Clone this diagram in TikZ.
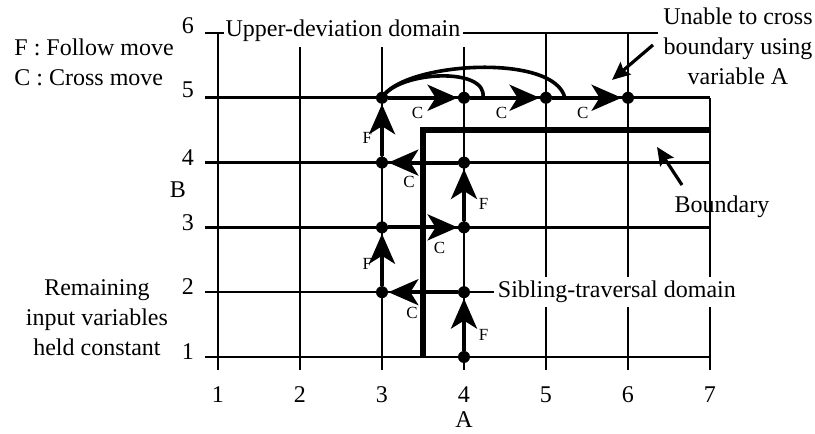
\documentclass[tikz,border=0pt]{standalone}
\usepackage{fontspec}
\setmainfont{Liberation Serif}
\usetikzlibrary{arrows.meta, positioning}
\tikzset{
  gridline/.style = {line width=1.3pt},
  bound/.style    = {line width=2.8pt, line join=miter},
  dot/.style      = {circle, fill=black, inner sep=0pt, minimum size=6pt},
  move/.style     = {line width=2pt, -{Stealth[length=15pt,width=13pt,inset=4pt]}},
  arcline/.style  = {line width=1.8pt},
  tag/.style      = {font=\fontsize{8.5}{9}\selectfont, inner sep=1pt},
  lbl/.style      = {font=\fontsize{12}{15}\selectfont, inner sep=1pt},
  callout/.style  = {line width=1.6pt, -{Stealth[length=9pt,width=8pt,inset=1.5pt]}},
}

\begin{document}
\begin{tikzpicture}[x=41pt, y=32.4pt]
  \useasboundingbox (-1.6585,-0.188) rectangle (8.2805,6.509);

  % ── Grid (rows B = 1..6, columns A = 1..7) ──────────────────────
  \draw[gridline] (0.84,1) -- (7,1);
  \draw[gridline] (0.84,2) -- (4.36,2);
  \draw[gridline] (0.84,3) -- (7,3);
  \draw[gridline] (0.84,4) -- (7,4);
  \draw[gridline] (0.84,5) -- (7,5);
  \draw[gridline] (0.84,6) -- (1.07,6);
  \draw[gridline] (3.99,6) -- (6.37,6);
  \draw[gridline] (1,0.8) -- (1,6);
  \draw[gridline] (2,0.8) -- (2,5.78);
  \draw[gridline] (3,0.8) -- (3,5.78);
  \draw[gridline] (4,0.8) -- (4,5.78);
  \draw[gridline] (5,0.8) -- (5,6);
  \draw[gridline] (6,0.8) -- (6,6);
  \draw[gridline] (7,0.8) -- (7,5);

  % ── Boundary ────────────────────────────────────────────────────
  \draw[bound] (3.5,1) -- (3.5,4.5) -- (7,4.5);

  % ── Axis labels ─────────────────────────────────────────────────
  \node[lbl] (yt1) at (0.634,1.08) {1};
  \node[lbl] (yt2) at (0.634,2.08) {2};
  \node[lbl] (yt3) at (0.634,3.08) {3};
  \node[lbl] (yt4) at (0.634,4.08) {4};
  \node[lbl] (yt5) at (0.634,5.12) {5};
  \node[lbl] (yt6) at (0.634,6.12) {6};
  \node[lbl] (blabel) at (0.512,3.577) {B};

  \node[lbl] (xt1) at (1,0.414) {1};
  \node[lbl] (xt2) at (2,0.414) {2};
  \node[lbl] (xt3) at (3,0.414) {3};
  \node[lbl] (xt4) at (4,0.414) {4};
  \node[lbl] (xt5) at (5,0.414) {5};
  \node[lbl] (xt6) at (6,0.414) {6};
  \node[lbl] (xt7) at (7,0.414) {7};
  \node[lbl, below=2pt of xt4] (alabel) {A};

  % ── Domain labels and notes ─────────────────────────────────────
  \node[lbl] (upper) at (2.524,6.04) {Upper-deviation domain};
  \node[lbl, fill=white, inner sep=2pt, anchor=west] (sibling) at (4.36,2)
    {Sibling-traversal domain};
  \node[lbl, align=left, anchor=west] (legend) at (-1.512,5.552)
    {F : Follow move\\C : Cross move};
  \node[lbl, align=center] (remain) at (-0.476,1.60)
    {Remaining\\input variables\\held constant};
  \node[lbl, align=center] (unable) at (7.341,5.79)
    {Unable to cross\\boundary using\\variable A};
  \node[lbl] (boundary) at (7.146,3.315) {Boundary};

  \coordinate (unabletail) at (6.305,5.815);
  \coordinate (unabletip)  at (5.805,5.275);
  \coordinate (boundtail)  at (6.659,3.654);
  \coordinate (boundtip)   at (6.354,4.241);
  \draw[callout] (unabletail) -- (unabletip);
  \draw[callout] (boundtail) -- (boundtip);

  % ── Visited points ──────────────────────────────────────────────
  \node[dot] (d41) at (4,1) {};
  \node[dot] (d42) at (4,2) {};
  \node[dot] (d32) at (3,2) {};
  \node[dot] (d33) at (3,3) {};
  \node[dot] (d43) at (4,3) {};
  \node[dot] (d44) at (4,4) {};
  \node[dot] (d34) at (3,4) {};
  \node[dot] (d35) at (3,5) {};
  \node[dot] (d45) at (4,5) {};
  \node[dot] (d55) at (5,5) {};
  \node[dot] (d65) at (6,5) {};

  % ── Follow / cross moves ────────────────────────────────────────
  \draw[move] (d41) -- (d42) node[tag, pos=0.3, right=5.5pt] (f1) {F};
  \draw[move] (d42) -- (d32) node[tag, pos=0.66, below=5.5pt] (c1) {C};
  \draw[move] (d32) -- (d33) node[tag, pos=0.42, left=3pt] (f2) {F};
  \draw[move] (d33) -- (d43) node[tag, pos=0.74, below=5.5pt] (c2) {C};
  \draw[move] (d43) -- (d44) node[tag, pos=0.32, right=5.5pt] (f3) {F};
  \draw[move] (d44) -- (d34) node[tag, pos=0.7, below=5pt] (c3) {C};
  \draw[move] (d34) -- (d35) node[tag, pos=0.36, left=3pt] (f4) {F};
  \draw[move] (d35) -- (d45) node[tag, pos=0.42, below=2.5pt] (c4) {C};
  \draw[move] (d45) -- (d55) node[tag, pos=0.45, below=2.5pt] (c5) {C};
  \draw[move] (d55) -- (d65) node[tag, pos=0.44, below=2.5pt] (c6) {C};

  % overshoot arcs from (3,5)
  \coordinate (arcend1) at (4.23,5);
  \coordinate (arcend2) at (5.23,5);
  \draw[arcline] (d35.center) .. controls (3.2,5.42) and (4.3,5.48) .. (arcend1);
  \draw[arcline] (d35.center) .. controls (3.25,5.55) and (5.1,5.7) .. (arcend2);

\end{tikzpicture}
\end{document}
